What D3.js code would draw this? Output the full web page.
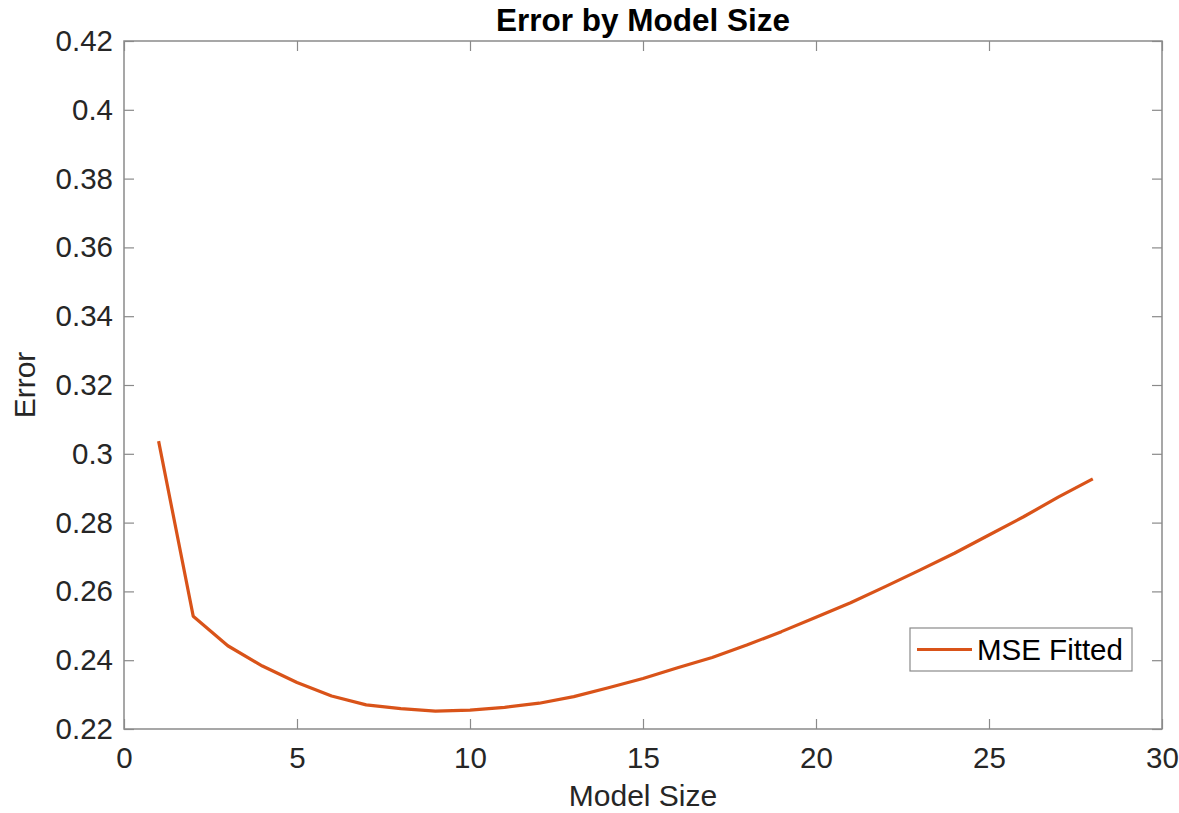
<!DOCTYPE html>
<html>
<head>
<meta charset="utf-8">
<script src="https://cdn.jsdelivr.net/npm/d3@7"></script>
<style>
  body { margin: 0; background: #ffffff; }
  text { font-family: "Liberation Sans", Arial, sans-serif; }
</style>
</head>
<body>
<script>
var w = 1179;
var h = 813;

// model size vs fitted MSE
var sizes = [1, 2, 3, 4, 5, 6, 7, 8, 9, 10, 11, 12, 13, 14, 15, 16, 17, 18, 19, 20, 21, 22, 23, 24, 25, 26, 27, 28];
var errors = [0.3037, 0.2528, 0.2442, 0.2383, 0.2335, 0.2296, 0.2270, 0.2259, 0.2252, 0.2255,
              0.2263, 0.2275, 0.2294, 0.2320, 0.2347, 0.2378, 0.2408, 0.2444, 0.2483, 0.2525,
              0.2567, 0.2614, 0.2662, 0.2711, 0.2764, 0.2817, 0.2874, 0.2927];
var xTicks = [0, 5, 10, 15, 20, 25, 30];
var yTicks = [0.22, 0.24, 0.26, 0.28, 0.3, 0.32, 0.34, 0.36, 0.38, 0.4, 0.42];
var seriesName = "MSE Fitted";

// plot box (window.top is reserved, so use p* names)
var pLeft = 124, pRight = 1162, pTop = 41, pBottom = 729;
var axisColor = "#8a8a8a";
var textColor = "#262626";
var lineColor = "#d95319";

var svg = d3.select("body")
    .append("svg")
    .attr("width", w)
    .attr("height", h);

svg.append("rect")
    .attr("width", w)
    .attr("height", h)
    .attr("fill", "#ffffff");

var x = d3.scaleLinear().domain([0, 30]).range([pLeft, pRight]);
var y = d3.scaleLinear().domain([0.22, 0.42]).range([pBottom, pTop]);
var fmt = d3.format("~g");

function styleAxis(g, showLabels) {
    g.select(".domain").remove();
    g.selectAll(".tick line").attr("stroke", axisColor).attr("stroke-width", 1.2);
    g.selectAll(".tick text")
        .attr("fill", textColor)
        .attr("font-size", 29.5)
        .attr("font-family", "'Liberation Sans', Arial, sans-serif");
    if (!showLabels) g.selectAll(".tick text").remove();
}

// bottom / top x ticks (inward)
svg.append("g")
    .attr("transform", "translate(0," + pBottom + ")")
    .call(d3.axisBottom(x).tickValues(xTicks).tickFormat(fmt).tickSizeInner(-10).tickPadding(18))
    .call(styleAxis, true);
svg.append("g")
    .attr("transform", "translate(0," + pTop + ")")
    .call(d3.axisTop(x).tickValues(xTicks).tickSizeInner(-10))
    .call(styleAxis, false);

// left / right y ticks (inward)
svg.append("g")
    .attr("transform", "translate(" + pLeft + ",0)")
    .call(d3.axisLeft(y).tickValues(yTicks).tickFormat(fmt).tickSizeInner(-10).tickPadding(11))
    .call(styleAxis, true);
svg.append("g")
    .attr("transform", "translate(" + pRight + ",0)")
    .call(d3.axisRight(y).tickValues(yTicks).tickSizeInner(-10))
    .call(styleAxis, false);

// box
svg.append("rect")
    .attr("x", pLeft)
    .attr("y", pTop)
    .attr("width", pRight - pLeft)
    .attr("height", pBottom - pTop)
    .attr("fill", "none")
    .attr("stroke", axisColor)
    .attr("stroke-width", 1.5);

var line = d3.line()
    .x(function(d, i) { return x(sizes[i]); })
    .y(function(d) { return y(d); });

svg.append("path")
    .datum(errors)
    .attr("d", line)
    .attr("fill", "none")
    .attr("stroke", lineColor)
    .attr("stroke-width", 3.2)
    .attr("stroke-linejoin", "round");

// title and axis labels
svg.append("text")
    .text("Error by Model Size")
    .attr("x", (pLeft + pRight) / 2)
    .attr("y", 31)
    .attr("text-anchor", "middle")
    .attr("font-size", 31.5)
    .attr("font-weight", "bold")
    .attr("fill", "#000000");

svg.append("text")
    .text("Model Size")
    .attr("x", (pLeft + pRight) / 2)
    .attr("y", 806)
    .attr("text-anchor", "middle")
    .attr("font-size", 30)
    .attr("fill", textColor);

svg.append("text")
    .text("Error")
    .attr("transform", "translate(35," + ((pTop + pBottom) / 2) + ") rotate(-90)")
    .attr("text-anchor", "middle")
    .attr("font-size", 30)
    .attr("fill", textColor);

// legend
var legend = svg.append("g");
legend.append("rect")
    .attr("x", 910)
    .attr("y", 628)
    .attr("width", 222)
    .attr("height", 43)
    .attr("fill", "#ffffff")
    .attr("stroke", axisColor)
    .attr("stroke-width", 1.2);
legend.append("line")
    .attr("x1", 917)
    .attr("x2", 972)
    .attr("y1", 649.5)
    .attr("y2", 649.5)
    .attr("stroke", lineColor)
    .attr("stroke-width", 3.2);
legend.append("text")
    .text(seriesName)
    .attr("x", 977)
    .attr("y", 660)
    .attr("font-size", 29.5)
    .attr("fill", "#000000");
</script>
</body>
</html>
